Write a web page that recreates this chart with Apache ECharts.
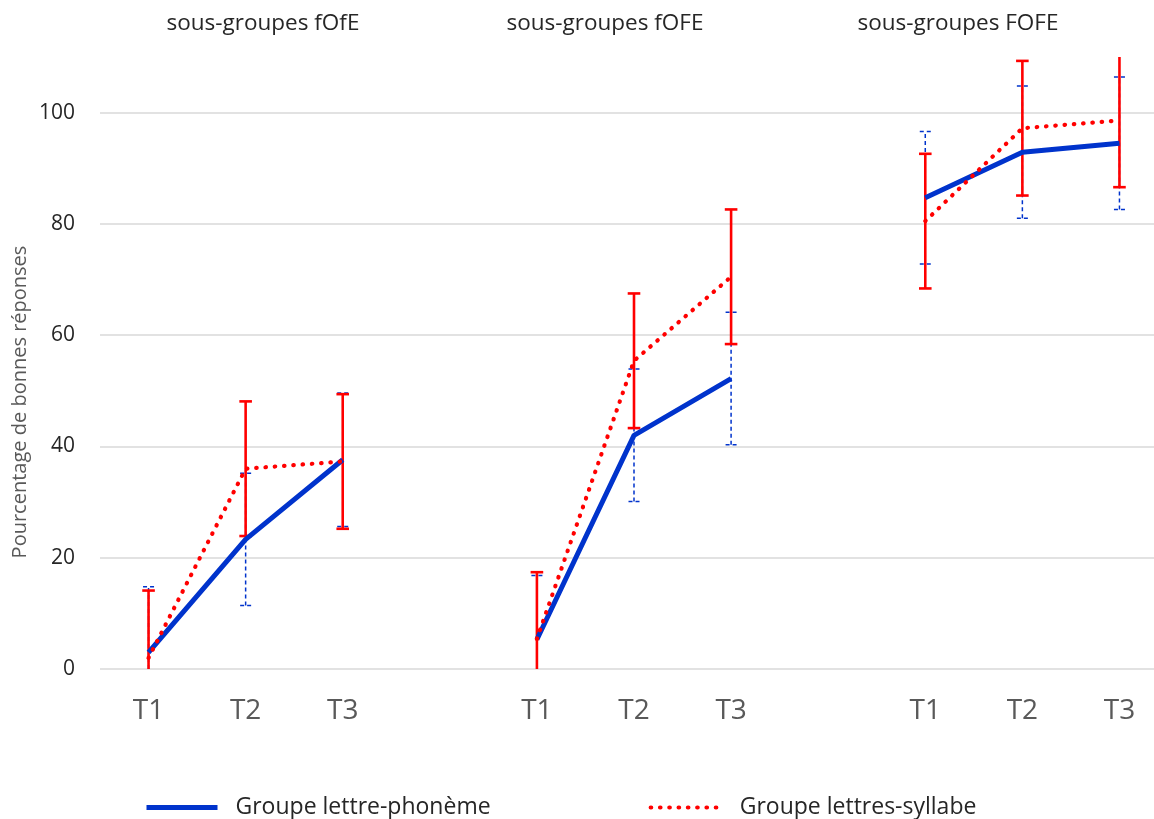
<!DOCTYPE html>
<html>
<head>
<meta charset="utf-8">
<script src="https://cdn.jsdelivr.net/npm/echarts@6/dist/echarts.min.js"></script>
<style>
  html, body { margin: 0; padding: 0; background: #ffffff; overflow: hidden; }
  #chart { width: 1190px; height: 819px; }
</style>
</head>
<body>
<div id="chart"></div>
<script>
// ---- data ----
const categories = ['T1', 'T2', 'T3', '', 'T1', 'T2', 'T3', '', 'T1', 'T2', 'T3'];
const subgroupTitles = ['sous-groupes fOfE', 'sous-groupes fOFE', 'sous-groupes FOFE'];
const seriesNames = ['Groupe lettre-phonème', 'Groupe lettres-syllabe'];
const phonemeMeans = [3.0, 23.3, 37.6, null, 5.3, 42.0, 52.2, null, 84.7, 92.9, 94.5];
const phonemeErr   = [11.8, 11.9, 12.0, null, 11.5, 11.9, 11.9, null, 11.9, 11.9, 11.9];
const syllabeMeans = [2.0, 36.0, 37.3, null, 5.4, 55.4, 70.5, null, 80.5, 97.2, 98.6];
const syllabeErr   = [12.1, 12.1, 12.1, null, 12.0, 12.1, 12.1, null, 12.1, 12.1, 12.0];
const yTicks = [0, 20, 40, 60, 80, 100];

// ---- build ----
function errData(means, errs) {
  const out = [];
  means.forEach((m, i) => {
    if (m !== null && errs[i] !== null) out.push([i, m - errs[i], m + errs[i]]);
  });
  return out;
}
function errRenderer(capHalf, style) {
  return function (params, api) {
    const x = api.value(0);
    const pLo = api.coord([x, api.value(1)]);
    const pHi = api.coord([x, api.value(2)]);
    return {
      type: 'group',
      children: [
        { type: 'line', shape: { x1: pLo[0], y1: pLo[1], x2: pHi[0], y2: pHi[1] }, style: style },
        { type: 'line', shape: { x1: pHi[0] - capHalf, y1: pHi[1], x2: pHi[0] + capHalf, y2: pHi[1] }, style: style },
        { type: 'line', shape: { x1: pLo[0] - capHalf, y1: pLo[1], x2: pLo[0] + capHalf, y2: pLo[1] }, style: style }
      ]
    };
  };
}

const BLUE = '#0033CC';
const RED = '#FF0000';
const FONT = '"Open Sans", "Noto Sans", sans-serif';
const BLUE_W = 5;
const RED_W = 4.2;
const RED_DASH = [0.5, 8.8];

const chart = echarts.init(document.getElementById('chart'), null, { renderer: 'canvas' });
chart.setOption({
  animation: false,
  backgroundColor: '#ffffff',
  grid: { left: 100, top: 57, width: 1068, height: 612, containLabel: false },
  xAxis: {
    type: 'category',
    data: categories,
    boundaryGap: true,
    axisLine: { show: false },
    axisTick: { show: false },
    axisLabel: { color: '#595959', fontSize: 28, fontFamily: FONT, margin: 28, interval: 0 },
    splitLine: { show: false }
  },
  yAxis: {
    type: 'value',
    min: 0,
    max: 110,
    interval: 20,
    axisLine: { show: false },
    axisTick: { show: false },
    axisLabel: {
      color: '#262626', fontSize: 21, fontFamily: FONT, margin: 25,
      showMaxLabel: false,
      formatter: v => (yTicks.indexOf(v) >= 0 ? String(v) : '')
    },
    splitLine: { show: true, showMaxLine: false, lineStyle: { color: '#D9D9D9', width: 1.5 } }
  },
  legend: {
    data: [
      { name: seriesNames[0], itemStyle: { opacity: 0 }, lineStyle: { width: BLUE_W, color: BLUE } },
      { name: seriesNames[1], itemStyle: { opacity: 0 }, lineStyle: { width: RED_W, color: RED, type: RED_DASH, cap: 'round' } }
    ],
    left: 139,
    top: 791,
    itemWidth: 71,
    itemHeight: 14,
    itemGap: 158,
    textStyle: { color: '#262626', fontSize: 23, fontFamily: FONT, padding: [0, 0, 0, 13] }
  },
  graphic: [
    { type: 'text', x: 263, y: 24, style: { text: subgroupTitles[0], fill: '#262626', font: '22.5px ' + FONT, align: 'center', verticalAlign: 'middle' } },
    { type: 'text', x: 605, y: 24, style: { text: subgroupTitles[1], fill: '#262626', font: '22.5px ' + FONT, align: 'center', verticalAlign: 'middle' } },
    { type: 'text', x: 958, y: 24, style: { text: subgroupTitles[2], fill: '#262626', font: '22.5px ' + FONT, align: 'center', verticalAlign: 'middle' } },
    {
      type: 'text', x: 20, y: 402, rotation: Math.PI / 2,
      style: { text: 'Pourcentage de bonnes réponses', fill: '#595959', font: '20px ' + FONT, align: 'center', verticalAlign: 'middle' }
    }
  ],
  series: [
    {
      name: 'err-phoneme',
      type: 'custom',
      clip: true,
      z: 2,
      renderItem: errRenderer(5.5, { stroke: BLUE, lineWidth: 1.5, lineDash: [4, 3], fill: null }),
      data: errData(phonemeMeans, phonemeErr),
      encode: { x: 0, y: [1, 2] }
    },
    {
      name: 'err-syllabe',
      type: 'custom',
      clip: true,
      z: 3,
      renderItem: errRenderer(6.3, { stroke: RED, lineWidth: 2.6, fill: null }),
      data: errData(syllabeMeans, syllabeErr),
      encode: { x: 0, y: [1, 2] }
    },
    {
      name: seriesNames[0],
      type: 'line',
      z: 4,
      data: phonemeMeans,
      connectNulls: false,
      symbol: 'none',
      itemStyle: { color: BLUE },
      lineStyle: { color: BLUE, width: BLUE_W }
    },
    {
      name: seriesNames[1],
      type: 'line',
      z: 5,
      data: syllabeMeans,
      connectNulls: false,
      symbol: 'none',
      itemStyle: { color: RED },
      lineStyle: { color: RED, width: RED_W, type: RED_DASH, cap: 'round' }
    }
  ]
});
</script>
</body>
</html>
